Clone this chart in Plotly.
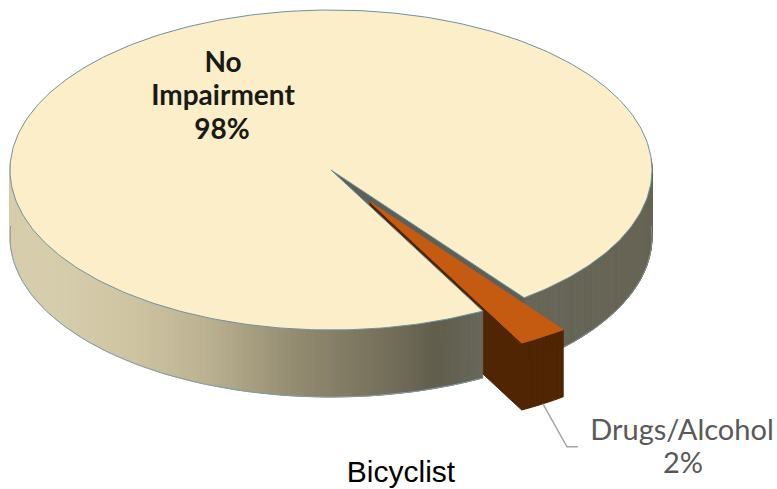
import numpy as np
import plotly.graph_objects as go

# Data
label_lines = ["No", "Impairment"]
small_label = "Drugs/Alcohol"
values = [98, 2]
title_text = "Bicyclist"

# Drawing geometry (pixel-like axes)
W, H = 777, 489
CX, CY, RX, RY = 331, 170, 321, 160
APEX = (CX, CY)
DEPTH = 67
END_ANGLE = 61.8          # ellipse parameter where the small slice begins
SPREAD = 1.222            # perspective widening of the slice at the front
EXPLODE = (39, 32)

CREAM, ORANGE, BROWN, GREY, RIM = "#fbeec9", "#c55a11", "#4f2504", "#5d6058", "#6f929c"
STOPS_X = [10, 60, 130, 200, 300, 400, 435, 482, 653]
STOPS_C = [(214, 205, 172), (214, 205, 172), (207, 197, 163), (190, 180, 148),
           (146, 138, 112), (112, 107, 88), (98, 94, 77), (104, 104, 92), (103, 100, 84)]

span = values[1] / sum(values) * 360 * SPREAD
T1, T0 = END_ANGLE, END_ANGLE - span


def rim(t, dx=0, dy=0):
    a = np.radians(t)
    return CX + RX * np.cos(a) + dx, CY + RY * np.sin(a) + dy


def wall_color(x):
    c = [np.interp(x, STOPS_X, [s[i] for s in STOPS_C]) for i in range(3)]
    return "rgb(%d,%d,%d)" % tuple(c)


fig = go.Figure()


def poly(xs, ys, fill, line=None, lw=1):
    fig.add_trace(go.Scatter(
        x=list(xs), y=list(ys), mode="lines", fill="toself", fillcolor=fill,
        line=dict(color=line or fill, width=lw), hoverinfo="skip", showlegend=False))


def wall_band(t_a, t_b, dx=0, dy=0, color=None):
    tt = np.linspace(t_a, t_b, max(2, int(abs(t_b - t_a) * 1.5)))
    for a, b in zip(tt[:-1], tt[1:]):
        xa, ya = rim(a, dx, dy)
        xb, yb = rim(b, dx, dy)
        poly([xa, xb, xb, xa, xa], [ya, yb, yb + DEPTH, ya + DEPTH, ya],
             color or wall_color((xa + xb) / 2))


def outline(t_a, t_b, color):
    tb = np.linspace(t_a, t_b, 80)
    xs, ys = rim(tb, 0, DEPTH)
    fig.add_trace(go.Scatter(x=xs, y=ys, mode="lines", line=dict(color=color, width=1),
                             hoverinfo="skip", showlegend=False))


def text(x, y, s, family, size, color):
    fig.add_trace(go.Scatter(
        x=[x], y=[y], mode="text", text=[s], textposition="middle center",
        textfont=dict(family=family, size=size, color=color), hoverinfo="skip", showlegend=False))


# back wall pieces behind the slice
wall_band(-4, T0)
outline(-4, T0, "#7f8f90")
# cut face of the big slice seen through the gap
x0, y0 = rim(T0)
poly([APEX[0], x0, x0, APEX[0], APEX[0]],
     [APEX[1], y0, y0 + DEPTH, APEX[1] + DEPTH, APEX[1]], GREY)

# exploded slice: hidden-side face, outer wall
ex, ey = EXPLODE
ax, ay = APEX[0] + ex, APEX[1] + ey
xe, ye = rim(T1, ex, ey)
poly([ax, xe, xe, ax, ax], [ay, ye, ye + DEPTH, ay + DEPTH, ay], BROWN)
wall_band(T0, T1, ex, ey, BROWN)

# front wall of the big slice (covers the slice's inner face)
wall_band(T1, 184)
outline(T1, 184, "#7f9ea8")

# top of the big slice
tt = np.linspace(T1, T0 + 360, 400)
xs, ys = rim(tt)
poly(np.r_[APEX[0], xs, APEX[0]], np.r_[APEX[1], ys, APEX[1]], CREAM, RIM, 1)

# top of the exploded slice
tt = np.linspace(T0, T1, 12)
xs, ys = rim(tt, ex, ey)
poly(np.r_[ax, xs, ax], np.r_[ay, ys, ay], ORANGE)

# leader line
lx, ly = rim((T0 + T1) / 2, ex, ey + DEPTH)
fig.add_trace(go.Scatter(x=[lx, lx + 24, lx + 35], y=[ly, ly + 43, ly + 43], mode="lines",
                         line=dict(color="#a6a6a6", width=1.5), hoverinfo="skip", showlegend=False))

# labels
text(223, 65, f"<b>{label_lines[0]}</b>", "Lato", 28, "#1a1a14")
text(223, 98, f"<b>{label_lines[1]}</b>", "Lato", 28, "#1a1a14")
text(222, 132, f"<b>{values[0]}%</b>", "Lato", 28, "#1a1a14")
text(682, 433, small_label, "Lato", 29, "#595959")
text(683, 466, f"{values[1]}%", "Lato", 29, "#595959")
text(401, 474, title_text, "Liberation Sans", 30, "#000000")

fig.update_layout(
    width=W, height=H, margin=dict(l=0, r=0, t=0, b=0),
    paper_bgcolor="white", plot_bgcolor="white", showlegend=False,
    xaxis=dict(range=[0, W], visible=False, fixedrange=True),
    yaxis=dict(range=[H, 0], visible=False, fixedrange=True),
)
fig.write_html("out.html", config=dict(displayModeBar=False),
               post_script="document.body.style.margin='0';document.body.style.overflow='hidden';")
